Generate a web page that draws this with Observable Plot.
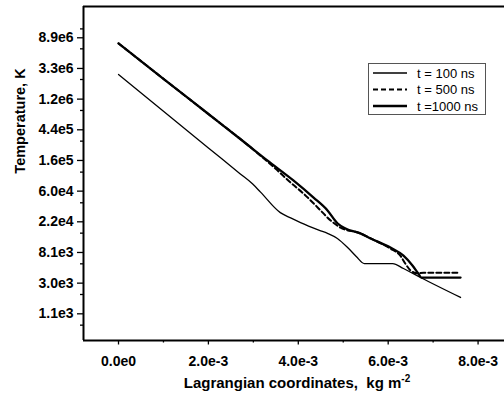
<!DOCTYPE html>
<html><head><meta charset="utf-8">
<script src="https://cdn.jsdelivr.net/npm/d3@7"></script>
<script src="https://cdn.jsdelivr.net/npm/@observablehq/plot@0.6"></script>
<style>
body{margin:0;background:#fff}
#chart{width:504px;height:397px}
</style>
</head><body><div id="chart"></div>
<script>
// Series names (legend)
const seriesNames = ["t = 100 ns", "t = 500 ns", "t =1000 ns"];

// t = 100 ns (thin solid)
const x100 = [0, 1.0e-3, 2.0e-3, 2.71e-3, 2.98e-3, 3.16e-3, 3.60e-3, 3.83e-3, 4.05e-3, 4.47e-3, 4.65e-3, 4.87e-3, 5.12e-3, 5.29e-3, 5.47e-3, 6.10e-3, 6.34e-3, 6.72e-3, 7.61e-3];
const T100 = [2.69e6, 8.1e5, 2.45e5, 1.05e5, 7.6e4, 5.8e4, 2.97e4, 2.5e4, 2.15e4, 1.67e4, 1.51e4, 1.28e4, 9.2e3, 7.1e3, 5.65e3, 5.65e3, 4.8e3, 3.58e3, 1.87e3];

// t = 500 ns (dashed)
const x500 = [0, 1.0e-3, 2.0e-3, 2.78e-3, 3.49e-3, 3.83e-3, 4.12e-3, 4.43e-3, 4.72e-3, 4.94e-3, 5.38e-3, 5.61e-3, 6.05e-3, 6.27e-3, 6.38e-3, 6.50e-3, 6.65e-3, 6.79e-3, 7.56e-3];
const T500 = [7.4e6, 2.33e6, 7.4e5, 3.02e5, 1.25e5, 7.9e4, 5.5e4, 3.52e4, 2.3e4, 1.82e4, 1.51e4, 1.28e4, 9.2e3, 7.3e3, 5.65e3, 4.5e3, 4.1e3, 4.2e3, 4.2e3];

// t = 1000 ns (thick solid)
const x1000 = [0, 1.0e-3, 2.0e-3, 2.78e-3, 3.31e-3, 3.89e-3, 4.34e-3, 4.65e-3, 4.87e-3, 5.05e-3, 5.38e-3, 5.61e-3, 6.05e-3, 6.34e-3, 6.54e-3, 6.67e-3, 6.74e-3, 7.61e-3];
const T1000 = [7.4e6, 2.33e6, 7.4e5, 3.02e5, 1.63e5, 8.5e4, 4.85e4, 3.19e4, 2.1e4, 1.77e4, 1.51e4, 1.28e4, 9.5e3, 7.3e3, 5.3e3, 4.08e3, 3.58e3, 3.58e3];

// Tick labels (y axis is logarithmic in base e: ticks at e^7 ... e^16)
const xTickValues = [0, 2e-3, 4e-3, 6e-3, 8e-3];
const xTickLabels = ["0.0e0", "2.0e-3", "4.0e-3", "6.0e-3", "8.0e-3"];
const xMinorTicks = [1e-3, 3e-3, 5e-3, 7e-3];
const yTickExponents = [7, 8, 9, 10, 11, 12, 13, 14, 15, 16];
const yTickLabels = ["1.1e3", "3.0e3", "8.1e3", "2.2e4", "6.0e4", "1.6e5", "4.4e5", "1.2e6", "3.3e6", "8.9e6"];
const yMinorExponents = [6.63, 7.63, 8.63, 9.63, 10.62, 11.62, 12.63, 13.63, 14.64, 15.64, 16.29];

const xLabel = "Lagrangian coordinates,  kg m";
const xLabelSup = "-2";
const yLabel = "Temperature, K";

const toRows = (xs, ts) => xs.map((x, i) => ({x, T: ts[i]}));
const d100 = toRows(x100, T100), d500 = toRows(x500, T500), d1000 = toRows(x1000, T1000);

const yLabelMap = new Map(yTickExponents.map((v, i) => [v, yTickLabels[i]]));
const xLabelMap = new Map(xTickValues.map((v, i) => [v, xTickLabels[i]]));
const lnT = d => Math.log(d.T);

const xDomain = [-0.779e-3, 8.588e-3];
const yDomain = [6.13, 17.02]; // natural log of temperature

const font = "'Liberation Sans', Arial, Helvetica, sans-serif";

const plot = Plot.plot({
  width: 504, height: 397,
  marginLeft: 83, marginRight: 0, marginTop: 6, marginBottom: 57,
  style: {fontFamily: font, fontSize: "14px", color: "#000", background: "#fff", overflow: "visible"},
  x: {domain: xDomain},
  y: {domain: yDomain},
  marks: [
    Plot.axisX(xTickValues, {tickSize: 4.5, tickPadding: 11, strokeWidth: 1.3, tickFormat: d => xLabelMap.get(d), label: null, fontWeight: "bold", fontSize: 14}),
    Plot.axisX(xMinorTicks, {tickSize: 2.5, strokeWidth: 1.3, tickFormat: () => "", label: null}),
    Plot.axisY(yTickExponents, {tickSize: 6, tickPadding: 4, strokeWidth: 1.3, tickFormat: d => yLabelMap.get(d), label: null, fontWeight: "bold", fontSize: 14}),
    Plot.axisY(yMinorExponents, {tickSize: 3, strokeWidth: 1.3, tickFormat: () => "", label: null}),
    Plot.lineY(d100, {x: "x", y: lnT, stroke: "#000", strokeWidth: 1.3, curve: "monotone-x"}),
    Plot.lineY(d500, {x: "x", y: lnT, stroke: "#000", strokeWidth: 2, strokeDasharray: "5,3", curve: "monotone-x"}),
    Plot.lineY(d1000, {x: "x", y: lnT, stroke: "#000", strokeWidth: 2.3, curve: "monotone-x"}),
    Plot.ruleX([xDomain[0]], {stroke: "#000", strokeWidth: 2}),
    Plot.ruleY([yDomain[0]], {stroke: "#000", strokeWidth: 2}),
    Plot.ruleY([yDomain[1]], {stroke: "#000", strokeWidth: 2})
  ]
});
document.getElementById("chart").appendChild(plot);

const svg = d3.select(plot);
// Axis titles
const xt = svg.append("text")
  .attr("x", 297).attr("y", 388)
  .attr("text-anchor", "middle")
  .attr("font-family", font).attr("font-size", 15).attr("font-weight", "bold")
  .attr("fill", "#000");
xt.append("tspan").text(xLabel);
xt.append("tspan").attr("font-size", 10).attr("dy", -6).text(xLabelSup);

svg.append("text")
  .attr("transform", "translate(25,121) rotate(-90)")
  .attr("text-anchor", "middle")
  .attr("font-family", font).attr("font-size", 14.5).attr("font-weight", "bold")
  .attr("fill", "#000")
  .text(yLabel);

// Legend
const lg = svg.append("g");
lg.append("rect").attr("x", 368.5).attr("y", 63.5).attr("width", 117).attr("height", 51)
  .attr("fill", "#fff").attr("stroke", "#555").attr("stroke-width", 1);
const legendStyles = [
  {w: 1.3, dash: null},
  {w: 2, dash: "5,3"},
  {w: 2.3, dash: null}
];
const rowY = [73, 89.5, 106];
seriesNames.forEach((name, i) => {
  lg.append("line").attr("x1", 373).attr("x2", 407).attr("y1", rowY[i]).attr("y2", rowY[i])
    .attr("stroke", "#000").attr("stroke-width", legendStyles[i].w)
    .attr("stroke-dasharray", legendStyles[i].dash);
  lg.append("text").attr("x", 417).attr("y", rowY[i]).attr("dy", "0.35em")
    .attr("text-anchor", "start")
    .attr("font-family", font).attr("font-size", 13).attr("fill", "#000").text(name);
});
</script>
</body></html>
